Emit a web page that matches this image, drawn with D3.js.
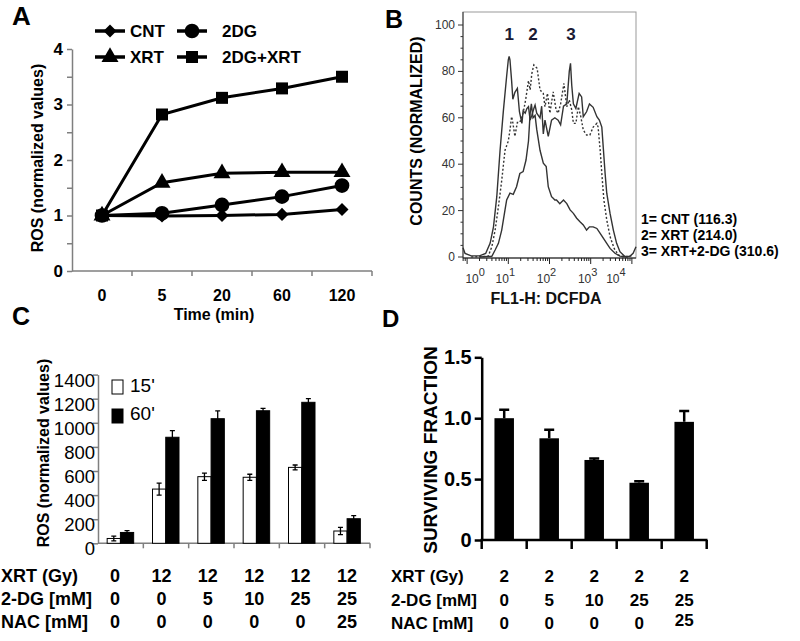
<!DOCTYPE html>
<html><head><meta charset="utf-8">
<script src="https://cdn.jsdelivr.net/npm/d3@7"></script>
<style>body{margin:0;background:#fff} svg{font-family:Arial,"Liberation Sans",sans-serif}</style>
</head><body><svg id="c" width="800" height="641"></svg>
<script>
// ---------------- DATA ----------------
// Panel A
const timePoints = ["0", "5", "20", "60", "120"];
const rosCNT = [1.0, 0.99, 1.0, 1.02, 1.11];
const ros2DG = [1.0, 1.04, 1.19, 1.34, 1.54];
const rosXRT = [1.0, 1.59, 1.76, 1.78, 1.78];
const ros2DGXRT = [1.0, 2.82, 3.12, 3.29, 3.50];
const errXRT = [0, 0.03, 0.03, 0.05, 0.05];
const err2DGXRT = [0, 0.03, 0.04, 0.06, 0.06];
const seriesNamesA = ["CNT", "2DG", "XRT", "2DG+XRT"];
const yTicksA = [0, 0.5, 1, 1.5, 2, 2.5, 3, 3.5, 4];

// Panel B (x in decades of FL1-H, y counts normalized)
const histLogCNT = [0.3, 0.6, 0.68, 0.76, 0.84, 0.92, 0.96, 1.04, 1.12, 1.2, 1.28, 1.36, 1.43, 1.49, 1.53, 1.56, 1.6, 1.65, 1.69, 1.77, 1.85, 1.92, 1.97, 2.05, 2.09, 2.13, 2.17, 2.25, 2.34, 2.42, 2.5, 2.58, 2.66, 2.74, 2.82, 2.9, 2.97, 3.06, 3.15, 3.23, 3.31, 3.39, 3.47, 3.59, 3.71, 3.9];
const histCntCNT = [0, 0.3, 3, 5.9, 11.6, 20.3, 24.6, 27.5, 27, 30.3, 36, 36.8, 41.8, 50, 62, 66, 60, 61, 55, 46, 40.4, 39, 30.3, 26, 25.3, 24.6, 24.6, 23, 24.6, 23, 20.3, 18.8, 16.7, 15.2, 13.8, 11.6, 13, 13, 12.3, 10.2, 8, 5.9, 3.7, 1.6, 0.4, 0];
const histLogXRT = [0.1, 0.51, 0.6, 0.68, 0.76, 0.84, 0.92, 1.0, 1.04, 1.08, 1.1, 1.16, 1.22, 1.28, 1.36, 1.42, 1.49, 1.53, 1.57, 1.62, 1.7, 1.77, 1.85, 1.89, 1.95, 2.01, 2.09, 2.16, 2.21, 2.27, 2.35, 2.42, 2.48, 2.54, 2.58, 2.64, 2.7, 2.76, 2.82, 2.9, 2.98, 3.06, 3.15, 3.18, 3.23, 3.27, 3.32, 3.39, 3.47, 3.57, 3.67, 3.8, 4.0];
const histCntXRT = [0, 0.3, 4.4, 11.6, 21.7, 33, 46, 50, 54.7, 60.5, 59, 52, 58, 58, 62, 67.7, 76, 72, 79, 82.8, 81.3, 72, 70.5, 64.8, 70.5, 62, 71.2, 63.4, 62, 66, 74.8, 64.8, 67.7, 63.4, 57.6, 57.6, 64.8, 60.5, 54.7, 52.6, 52.6, 56, 57.6, 56, 46, 36, 24.6, 16, 8.8, 3.7, 0.9, 0, 0.5];
const histLogXRT2DG = [-0.1, -0.05, 0.1, 0.3, 0.45, 0.56, 0.64, 0.72, 0.8, 0.88, 0.96, 1.0, 1.02, 1.04, 1.08, 1.11, 1.16, 1.22, 1.27, 1.33, 1.36, 1.41, 1.45, 1.49, 1.53, 1.57, 1.62, 1.65, 1.69, 1.77, 1.81, 1.85, 1.89, 1.97, 2.05, 2.13, 2.21, 2.27, 2.34, 2.42, 2.48, 2.51, 2.54, 2.58, 2.64, 2.72, 2.78, 2.82, 2.9, 2.97, 3.06, 3.15, 3.21, 3.27, 3.31, 3.35, 3.39, 3.47, 3.55, 3.63, 3.71, 3.83, 3.95, 4.03, 4.1];
const histCntXRT2DG = [4, 1.5, 0.5, 0.5, 1.5, 6, 13, 26, 46, 63, 78, 85, 86.5, 85, 76, 68, 71, 72.7, 62.6, 57.6, 63, 62, 64, 64.8, 59, 61, 64, 65.5, 62, 60, 65, 53, 59, 52, 59, 60, 59, 57, 65, 66, 80, 83.5, 74, 66, 64, 70.5, 69, 60.5, 62.6, 66, 64.5, 60.5, 59, 56, 46, 36, 27.5, 18.8, 11.6, 5.9, 2.3, 0.2, 0.3, 1.6, 4.4];
const decadeTicksB = [0, 1, 2, 3, 4];
const peakLabelsB = ["1", "2", "3"];
const peakLabelLogB = [1.02, 1.6, 2.52];
const legendB = ["1= CNT (116.3)", "2= XRT (214.0)", "3= XRT+2-DG (310.6)"];

// Panel C
const xrtC = ["0", "12", "12", "12", "12", "12"];
const dgC = ["0", "0", "5", "10", "25", "25"];
const nacC = ["0", "0", "0", "0", "0", "25"];
const ros15 = [40, 450, 553, 548, 630, 102];
const err15 = [20, 50, 30, 25, 20, 30];
const ros60 = [90, 880, 1034, 1100, 1170, 204];
const err60 = [15, 55, 65, 20, 30, 25];
const yTicksC = [0, 200, 400, 600, 800, 1000, 1200, 1400];

// Panel D
const xrtD = ["2", "2", "2", "2", "2"];
const dgD = ["0", "5", "10", "25", "25"];
const nacD = ["0", "0", "0", "0", "25"];
const survFrac = [1.0, 0.835, 0.657, 0.47, 0.97];
const survErr = [0.07, 0.07, 0.012, 0.012, 0.09];
const yTicksD = [0, 0.5, 1.0, 1.5];

// ---------------- DRAW ----------------
const F = "Arial, 'Liberation Sans', sans-serif";
const svg = d3.select("#c");
const gray = "#7f7f7f";

function txt(g, x, y, s, size, weight, anchor) {
  return g.append("text").attr("x", x).attr("y", y).text(s)
    .attr("font-size", size).attr("font-weight", weight || "normal")
    .attr("text-anchor", anchor || "start").attr("font-family", F).attr("fill", "#000");
}

// ===== Panel A =====
const gA = svg.append("g");
txt(gA, 12, 25, "A", 26, "bold");
const xA = d3.scaleBand().domain(timePoints).range([72, 372]);
const yA = d3.scaleLinear().domain([0, 4]).range([271, 49]);
const bwA = xA.bandwidth();
gA.append("g").attr("transform", "translate(72,0)")
  .call(d3.axisLeft(yA).tickValues(yTicksA).tickFormat(d => Number.isInteger(d) ? d : "").tickSize(5).tickSizeOuter(0))
  .call(g => g.select(".domain").attr("stroke", gray).attr("stroke-width", 1.5))
  .call(g => g.selectAll(".tick line").attr("stroke", gray).attr("stroke-width", 1.5))
  .call(g => g.selectAll("text").attr("font-size", 17).attr("font-weight", "bold").attr("fill", "#000").attr("font-family", F).attr("x", -9));
gA.append("line").attr("x1", 72).attr("x2", 372).attr("y1", yA(0)).attr("y2", yA(0)).attr("stroke", gray).attr("stroke-width", 1.5);
gA.selectAll(".xt").data(timePoints).enter().append("line")
  .attr("x1", d => xA(d) + bwA).attr("x2", d => xA(d) + bwA)
  .attr("y1", yA(0)).attr("y2", yA(0) + 5).attr("stroke", gray).attr("stroke-width", 1.5);
gA.selectAll(".xl").data(timePoints).enter().append("text")
  .attr("x", d => xA(d) + bwA / 2).attr("y", 301).text(d => d)
  .attr("text-anchor", "middle").attr("font-size", 16).attr("font-weight", "bold").attr("font-family", F);
txt(gA, 214, 320, "Time (min)", 16, "bold", "middle");
gA.append("text").attr("transform", "translate(43,158) rotate(-90)").attr("text-anchor", "middle")
  .attr("font-size", 16).attr("font-weight", "bold").attr("font-family", F).text("ROS (normalized values)");

const symA = [
  d3.symbol().type(d3.symbolSquare).size(85),
  d3.symbol().type(d3.symbolCircle).size(170),
  d3.symbol().type(d3.symbolTriangle).size(125),
  d3.symbol().type(d3.symbolSquare).size(144)
];
const rotA = [45, 0, 0, 0];
const seriesA = [rosCNT, ros2DG, rosXRT, ros2DGXRT];
const errsA = [null, null, errXRT, err2DGXRT];
const lineA = d3.line().x((d, i) => xA(timePoints[i]) + bwA / 2).y(d => yA(d));
seriesA.forEach((s, k) => {
  gA.append("path").attr("d", lineA(s)).attr("fill", "none").attr("stroke", "#000").attr("stroke-width", 3);
});
seriesA.forEach((s, k) => {
  if (errsA[k]) {
    s.forEach((v, i) => {
      const e = errsA[k][i]; if (!e) return;
      const cx = xA(timePoints[i]) + bwA / 2;
      gA.append("path").attr("d", `M${cx},${yA(v + e)}V${yA(v - e)}M${cx - 4},${yA(v + e)}H${cx + 4}M${cx - 4},${yA(v - e)}H${cx + 4}`)
        .attr("stroke", "#000").attr("stroke-width", 1.5).attr("fill", "none");
    });
  }
  gA.selectAll(null).data(s).enter().append("path")
    .attr("d", symA[k])
    .attr("transform", (d, i) => `translate(${xA(timePoints[i]) + bwA / 2},${yA(d)}) rotate(${rotA[k]})`)
    .attr("fill", "#000");
});
// legend A
const legPos = [[110, 31, 130], [192, 31, 222], [110, 57, 130], [192, 57, 222]];
seriesNamesA.forEach((n, k) => {
  const [mx, my, tx] = legPos[k];
  gA.append("line").attr("x1", mx - 15).attr("x2", mx + 15).attr("y1", my).attr("y2", my).attr("stroke", "#000").attr("stroke-width", 3.5);
  gA.append("path").attr("d", symA[k]).attr("transform", `translate(${mx},${my}) rotate(${rotA[k]})`).attr("fill", "#000");
  txt(gA, tx, my + 6, n, 17, "bold");
});

// ===== Panel B =====
const gB = svg.append("g");
txt(gB, 385, 28, "B", 25, "bold");
const xB = d3.scaleLinear().domain([-0.1, 4.1]).range([463, 636]);
const yB = d3.scaleLinear().domain([0, 100]).range([257, 25]);
gB.append("rect").attr("x", 463).attr("y", 12).attr("width", 173).attr("height", 246)
  .attr("fill", "none").attr("stroke", "#999").attr("stroke-width", 1);
gB.append("line").attr("x1", 463).attr("x2", 463).attr("y1", 12).attr("y2", 258).attr("stroke", "#333");
gB.append("line").attr("x1", 463).attr("x2", 636).attr("y1", 258).attr("y2", 258).attr("stroke", "#111").attr("stroke-width", 1.2);
// y ticks
d3.range(0, 101, 5).forEach(v => {
  const major = v % 20 === 0;
  gB.append("line").attr("x1", 463).attr("x2", 463 - (major ? 5 : 2.5)).attr("y1", yB(v)).attr("y2", yB(v)).attr("stroke", "#333");
  if (major) gB.append("text").attr("x", 455).attr("y", yB(v) + 4).attr("text-anchor", "end")
    .attr("font-size", 12).attr("font-family", F).attr("fill", "#333").text(v);
});
// x ticks (log decades)
const minorB = [];
for (let n = -1; n <= 4; n++) for (let k = 2; k <= 9; k++) { const v = n + Math.log10(k); if (v > -0.1 && v < 4.1) minorB.push(v); }
minorB.forEach(v => gB.append("line").attr("x1", xB(v)).attr("x2", xB(v)).attr("y1", 258).attr("y2", 261).attr("stroke", "#222"));
decadeTicksB.forEach(v => gB.append("line").attr("x1", xB(v)).attr("x2", xB(v)).attr("y1", 258).attr("y2", 264).attr("stroke", "#222"));
const nudgeB = [11, 0, 0, 0, -13];
decadeTicksB.forEach((v, i) => {
  const t = gB.append("text").attr("x", xB(v) + nudgeB[i] - 3).attr("y", 283).attr("text-anchor", "middle")
    .attr("font-size", 12).attr("font-family", F).attr("fill", "#333");
  t.append("tspan").text("10");
  t.append("tspan").attr("dy", -7).attr("font-size", 11).text(v);
});
txt(gB, 546, 304, "FL1-H: DCFDA", 16, "bold", "middle").attr("fill", "#111");
gB.append("text").attr("transform", "translate(422,131) rotate(-90)").attr("text-anchor", "middle")
  .attr("font-size", 16).attr("font-weight", "bold").attr("font-family", F).text("COUNTS (NORMALIZED)");
const lineB = d3.line().x(d => xB(d[0])).y(d => yB(d[1]));
const histSeries = [
  [histLogCNT, histCntCNT, null],
  [histLogXRT, histCntXRT, "2,2"],
  [histLogXRT2DG, histCntXRT2DG, null]
];
histSeries.forEach(([xs, ys, dash]) => {
  gB.append("path").attr("d", lineB(xs.map((x, i) => [x, ys[i]])))
    .attr("fill", "none").attr("stroke", "#333").attr("stroke-width", 1.4)
    .attr("stroke-dasharray", dash);
});
peakLabelsB.forEach((s, i) => txt(gB, xB(peakLabelLogB[i]), 40, s, 17, "bold", "middle").attr("fill", "#1a1a33"));
legendB.forEach((s, i) => txt(gB, 641, 224 + i * 16, s, 14, "bold"));

// ===== Panel C =====
const gC = svg.append("g");
txt(gC, 12, 325, "C", 25, "bold");
const idxC = d3.range(ros15.length);
const xC = d3.scaleBand().domain(idxC).range([98, 370]);
const bwC = xC.bandwidth();
const subC = d3.scaleBand().domain(["15", "60"]).range([-13.5, 13]);
const yC = d3.scaleLinear().domain([0, 1400]).range([543.3, 374.6]);
gC.append("g").attr("transform", "translate(98,0)")
  .call(d3.axisLeft(yC).tickValues(yTicksC).tickFormat(d3.format("d")).tickSize(5).tickSizeOuter(0))
  .call(g => g.select(".domain").attr("stroke", gray).attr("stroke-width", 1.5))
  .call(g => g.selectAll(".tick line").attr("stroke", gray).attr("stroke-width", 1.5))
  .call(g => g.selectAll("text").attr("font-size", 18.5).attr("fill", "#000").attr("font-family", F).attr("x", -3).attr("dy", "0.62em"));
gC.append("line").attr("x1", 98).attr("x2", 370).attr("y1", yC(0)).attr("y2", yC(0)).attr("stroke", gray).attr("stroke-width", 1.5);
idxC.forEach(i => gC.append("line").attr("x1", xC(i) + bwC).attr("x2", xC(i) + bwC).attr("y1", yC(0)).attr("y2", yC(0) + 5).attr("stroke", gray).attr("stroke-width", 1.5));
const barsC = [["15", ros15, err15, "#fff"], ["60", ros60, err60, "#000"]];
barsC.forEach(([key, vals, errs, fill]) => {
  vals.forEach((v, i) => {
    const x0 = xC(i) + bwC / 2 + subC(key);
    gC.append("rect").attr("x", x0).attr("y", yC(v)).attr("width", subC.bandwidth()).attr("height", yC(0) - yC(v))
      .attr("fill", fill).attr("stroke", "#000").attr("stroke-width", 1);
    const cx = x0 + subC.bandwidth() / 2, e = errs[i];
    gC.append("path").attr("d", `M${cx},${yC(v + e)}V${yC(v - e)}M${cx - 2.5},${yC(v + e)}H${cx + 2.5}M${cx - 2.5},${yC(v - e)}H${cx + 2.5}`)
      .attr("stroke", "#000").attr("stroke-width", 1.3).attr("fill", "none");
  });
});
// legend C
gC.append("rect").attr("x", 112).attr("y", 380).attr("width", 11).attr("height", 14).attr("fill", "#fff").attr("stroke", "#000");
txt(gC, 130, 392, "15'", 19);
gC.append("rect").attr("x", 112).attr("y", 409).attr("width", 11).attr("height", 14).attr("fill", "#000").attr("stroke", "#000");
txt(gC, 130, 420, "60'", 19);
gC.append("text").attr("transform", "translate(49,453) rotate(-90)").attr("text-anchor", "middle")
  .attr("font-size", 16).attr("font-weight", "bold").attr("font-family", F).text("ROS (normalized values)");
const rowsC = [["XRT (Gy)", xrtC, 582], ["2-DG [mM]", dgC, 605], ["NAC [mM]", nacC, 628]];
const xCtab = d3.scalePoint().domain(idxC).range([115, 347]);
rowsC.forEach(([lab, vals, y]) => {
  txt(gC, 1, y, lab, 18, "bold");
  vals.forEach((v, i) => txt(gC, xCtab(i), y, v, 18, "bold", "middle"));
});

// ===== Panel D =====
const gD = svg.append("g");
txt(gD, 382, 327, "D", 24, "bold");
const idxD = d3.range(survFrac.length);
const xD = d3.scaleBand().domain(idxD).range([481.7, 706.7]);
const bwD = xD.bandwidth();
const yD = d3.scaleLinear().domain([0, 1.5]).range([540, 357.3]);
gD.append("g").attr("transform", "translate(481.7,0)")
  .call(d3.axisLeft(yD).tickValues(yTicksD).tickFormat(d => d === 0 ? "0" : d3.format(".1f")(d)).tickSize(7).tickSizeOuter(0))
  .call(g => g.select(".domain").attr("stroke", "#000").attr("stroke-width", 2.5))
  .call(g => g.selectAll(".tick line").attr("stroke", "#000").attr("stroke-width", 2.5))
  .call(g => g.selectAll("text").attr("font-size", 20).attr("font-weight", "bold").attr("fill", "#000").attr("font-family", F).attr("x", -10));
gD.append("line").attr("x1", 480.5).attr("x2", 707.5).attr("y1", yD(0)).attr("y2", yD(0)).attr("stroke", "#000").attr("stroke-width", 2.5);
[0].concat(idxD.map(i => i + 1)).forEach(i => {
  const x = 481.7 + i * bwD;
  gD.append("line").attr("x1", x).attr("x2", x).attr("y1", yD(0)).attr("y2", yD(0) + 9).attr("stroke", "#000").attr("stroke-width", 2.5);
});
const barWD = 19.5;
survFrac.forEach((v, i) => {
  const cx = xD(i) + bwD / 2;
  gD.append("rect").attr("x", cx - barWD / 2).attr("y", yD(v)).attr("width", barWD).attr("height", yD(0) - yD(v)).attr("fill", "#000");
  const e = survErr[i];
  gD.append("path").attr("d", `M${cx},${yD(v)}V${yD(v + e)}M${cx - 5},${yD(v + e)}H${cx + 5}`)
    .attr("stroke", "#000").attr("stroke-width", 2.5).attr("fill", "none");
});
gD.append("text").attr("transform", "translate(437,450) rotate(-90)").attr("text-anchor", "middle")
  .attr("font-size", 19).attr("font-weight", "bold").attr("font-family", F).text("SURVIVING FRACTION");
const rowsD = [["XRT (Gy)", xrtD, 582], ["2-DG [mM]", dgD, 606], ["NAC [mM]", nacD, 629]];
rowsD.forEach(([lab, vals, y]) => {
  txt(gD, 391, y, lab, 17, "bold");
  vals.forEach((v, i) => txt(gD, xD(i) + bwD / 2, y - (lab === "NAC [mM]" && v === "25" ? 3 : 0), v, 17, "bold", "middle"));
});
</script>
</body></html>
